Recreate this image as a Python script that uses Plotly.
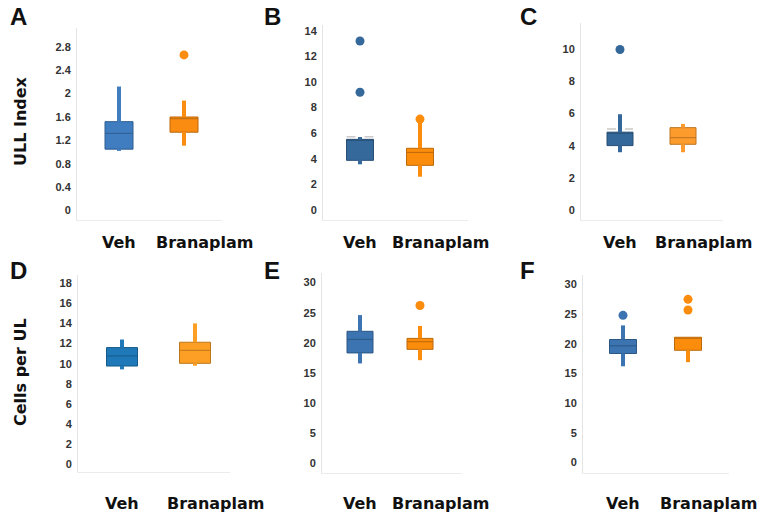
import plotly.graph_objects as go

# group labels
groups = ["Veh", "Branaplam"]
panels = ["A", "B", "C", "D", "E", "F"]

# box stats, one entry per panel
veh_q1 = [1.05, 3.88, 4.02, 9.77, 18.3, 18.36]
veh_med = [1.32, 5.45, 4.80, 10.77, 20.56, 19.65]
veh_q3 = [1.52, 5.52, 4.85, 11.60, 21.9, 20.72]
veh_lo = [1.02, 3.57, 3.61, 9.44, 16.56, 16.2]
veh_hi = [2.12, 5.70, 5.96, 12.40, 24.6, 23.1]
veh_out = [[], [9.2, 13.2], [9.96], [], [], [24.8]]
veh_mean = [None, 5.73, 5.05, None, None, None]

bra_q1 = [1.34, 3.49, 4.10, 10.04, 18.9, 18.9]
bra_med = [1.57, 4.50, 4.51, 11.33, 20.17, 21.0]
bra_q3 = [1.60, 4.82, 5.13, 12.13, 20.72, 21.1]
bra_lo = [1.11, 2.60, 3.61, 9.80, 17.1, 16.9]
bra_hi = [1.88, 6.80, 5.36, 14.0, 22.8, 21.1]
bra_out = [[2.66], [7.1], [], [], [26.2], [25.7, 27.5]]

y_titles = ["ULL Index", "", "", "Cells per UL", "", ""]
y_dtick = [0.4, 2, 2, 2, 5, 5]
y_ranges = [[-0.16, 3.12], [-0.78, 14.45], [-0.58, 11.6],
            [-0.74, 18.8], [-1.67, 31.6], [-1.8, 31.6]]

veh_col = ["#3f7dc0", "#35699c", "#34689a", "#1f78b8", "#3b74b0", "#3b74b0"]
bra_col = ["#fb8c12", "#fb8c0c", "#fd9b2d", "#fd9f24", "#fb8c0c", "#fb8c0c"]

W, H = 760, 517
# pixel rects (left, top, right, bottom), box centres, box width px
rects = [(77, 28, 222, 220), (323, 25, 468, 220), (581, 23, 723, 220),
         (78, 275, 230, 472), (322, 273, 462, 473), (583, 275, 729, 473)]
centres = [(119, 184), (360, 420), (620, 683), (122, 195), (360, 420), (623, 688)]
box_px = [28, 27, 26, 31, 26, 27]


def darker(hx, f=0.75):
    r, g, b = int(hx[1:3], 16), int(hx[3:5], 16), int(hx[5:7], 16)
    return "rgb(%d,%d,%d)" % (r * f, g * f, b * f)


fig = go.Figure()
layout = {}
annotations = []
tick_font = dict(family="Liberation Sans", size=11, color="#333", weight="bold")
lab_font = dict(family="DejaVu Sans", size=16, color="#111", weight="bold")

for i, p in enumerate(panels):
    n = "" if i == 0 else str(i + 1)
    xa, ya = "x" + n, "y" + n
    left, top, right, bottom = rects[i]
    c0, c1 = centres[i]
    u = c1 - c0
    bw = box_px[i] / u

    stats = [
        (0, veh_q1[i], veh_med[i], veh_q3[i], veh_lo[i], veh_hi[i], veh_out[i], veh_col[i]),
        (1, bra_q1[i], bra_med[i], bra_q3[i], bra_lo[i], bra_hi[i], bra_out[i], bra_col[i]),
    ]
    for pos, q1, med, q3, lo, hi, out, col in stats:
        # thick whiskers under the box
        fig.add_trace(go.Scatter(
            x=[pos, pos, None, pos, pos], y=[lo, q1, None, q3, hi],
            mode="lines", line=dict(color=col, width=4),
            xaxis=xa, yaxis=ya, showlegend=False, hoverinfo="skip"))
        fig.add_trace(go.Box(
            x=[pos], q1=[q1], median=[med], q3=[q3],
            lowerfence=[q1], upperfence=[q3],
            width=bw, whiskerwidth=0, fillcolor=col,
            line=dict(color=darker(col), width=1),
            boxpoints=False, xaxis=xa, yaxis=ya, showlegend=False))
        if out:
            fig.add_trace(go.Scatter(
                x=[pos] * len(out), y=out, mode="markers",
                marker=dict(color=col, size=9),
                xaxis=xa, yaxis=ya, showlegend=False))

    if veh_mean[i] is not None:
        fig.add_trace(go.Scatter(
            x=[-bw / 2, bw / 2], y=[veh_mean[i]] * 2, mode="lines",
            line=dict(color="#c9c9c9", width=1.5, dash="dash"),
            xaxis=xa, yaxis=ya, showlegend=False, hoverinfo="skip"))

    layout["xaxis" + n] = dict(
        domain=[left / W, right / W], range=[(left - c0) / u, (right - c0) / u],
        anchor=ya, showticklabels=False, showgrid=False, zeroline=False,
        showline=True, linecolor="#ececec", linewidth=1)
    layout["yaxis" + n] = dict(
        domain=[1 - bottom / H, 1 - top / H], range=y_ranges[i], dtick=y_dtick[i],
        tick0=0, anchor=xa, showgrid=False, zeroline=False,
        showline=True, linecolor="#e4e4e4", linewidth=1,
        tickfont=tick_font, ticks="", ticklabelstandoff=3)

    row_y = 1 - (243 if i < 3 else 503) / H
    annotations.append(dict(x=0, y=row_y, xref=xa, yref="paper", text=groups[0],
                            xanchor="center", yanchor="middle",
                            showarrow=False, font=lab_font))
    annotations.append(dict(x=1 + 20 / u, y=row_y, xref=xa, yref="paper", text=groups[1],
                            xanchor="center", yanchor="middle",
                            showarrow=False, font=lab_font))
    lx = 8 if i % 3 == 0 else (262 if i % 3 == 1 else 518)
    ly = 16 if i < 3 else 270
    annotations.append(dict(x=lx / W, y=1 - ly / H, xref="paper", yref="paper",
                            text=p, showarrow=False, xanchor="left", yanchor="middle",
                            font=dict(family="Liberation Sans", size=24, color="#111",
                                      weight="bold")))
    if y_titles[i]:
        cy = 121 if i < 3 else 372
        annotations.append(dict(x=20 / W, y=1 - cy / H, xref="paper", yref="paper",
                                text=y_titles[i], textangle=-90, showarrow=False,
                                xanchor="center", yanchor="middle",
                                font=lab_font))

fig.update_layout(
    width=W, height=H, margin=dict(l=0, r=0, t=0, b=0),
    plot_bgcolor="white", paper_bgcolor="white",
    annotations=annotations, **layout)

fig.write_html("out.html", config={"displayModeBar": False},
               post_script="document.body.style.margin='0';")
